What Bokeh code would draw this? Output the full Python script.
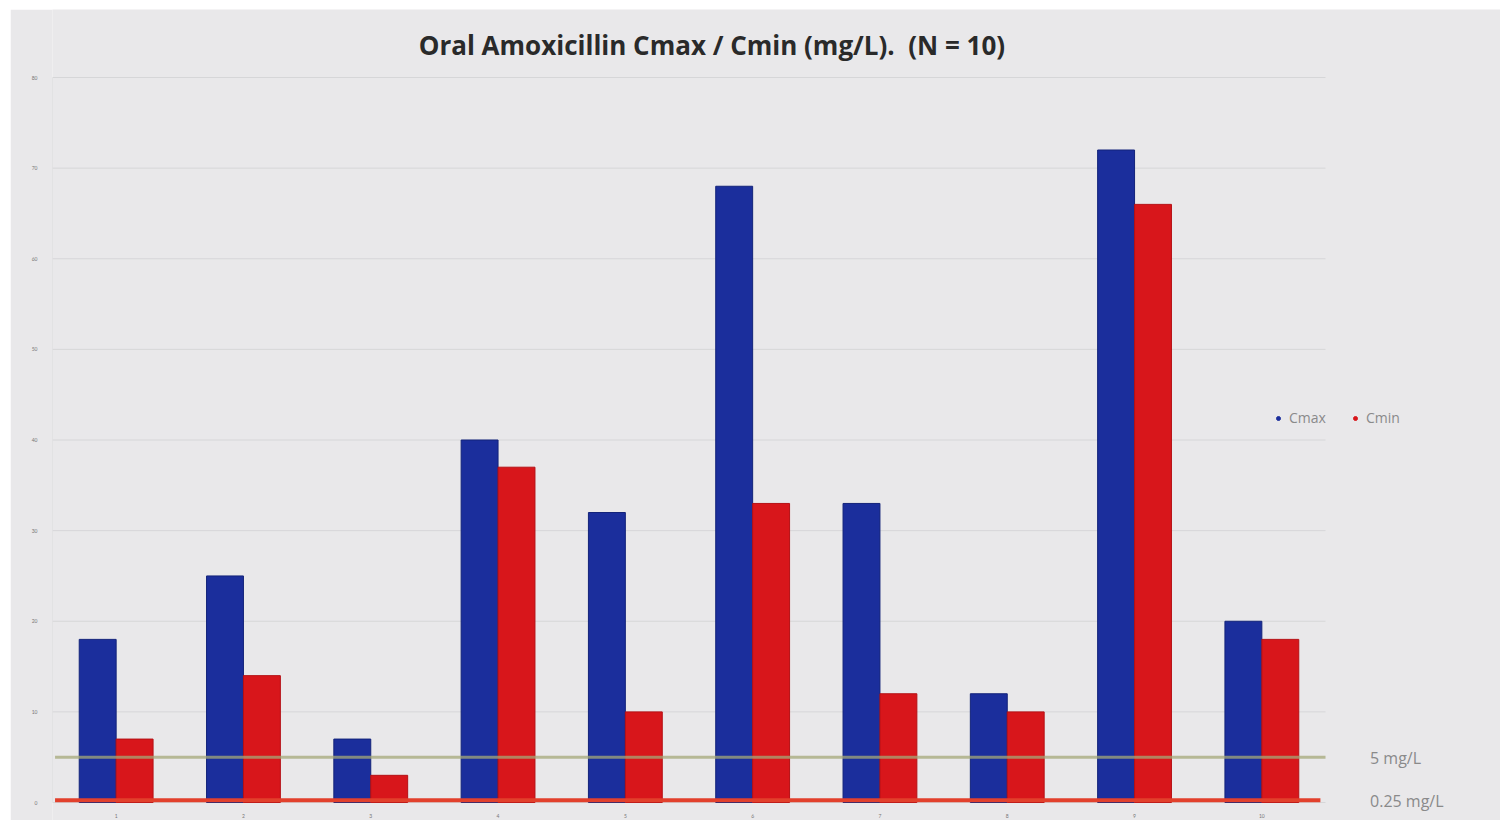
from bokeh.plotting import figure
from bokeh.models import (ColumnDataSource, FixedTicker, Label, Legend, LegendItem, Range1d)
from bokeh.core.properties import value
from bokeh.embed import file_html
from bokeh.resources import INLINE

# Per-patient amoxicillin concentrations (mg/L)
patients = [1, 2, 3, 4, 5, 6, 7, 8, 9, 10]
patient_labels = [str(n) for n in patients]
cmax = [18, 25, 7, 40, 32, 68, 33, 12, 72, 20]
cmin = [7, 14, 3, 37, 10, 33, 12, 10, 66, 18]
y_ticks = [0, 10, 20, 30, 40, 50, 60, 70, 80]
threshold_high = 5
threshold_low = 0.25

BLUE = "#1b2e9c"
RED = "#d8161b"
BG = "#e9e8ea"
GRID = "#d6d6d8"
MUTED = "#8a8a8a"

X0, X1 = 0.5, 10.5          # category extent of the plotting area
Y_TOP = 80
PX_X = 127.3                # pixels per category
PX_Y = 9.0625               # pixels per mg/L

bar_w = 0.29
src = ColumnDataSource(dict(
    x_max=[p - bar_w / 2 for p in patients],
    x_min=[p + bar_w / 2 for p in patients],
    cmax=cmax,
    cmin=cmin,
))

# the frame reaches past the bars so the title, legend and line labels sit inside it
p = figure(width=1490, height=811, output_backend="svg", toolbar_location=None,
           x_range=Range1d(X0, X1 + 175 / PX_X),
           y_range=Range1d(-18 / PX_Y, Y_TOP + 68 / PX_Y),
           background_fill_color=BG, border_fill_color=BG,
           min_border_left=42, min_border_right=0,
           min_border_top=0, min_border_bottom=0,
           margin=(9, 2, 9, 10))

# horizontal grid lines across the category extent only
p.segment(x0=[X0] * len(y_ticks), x1=[X1] * len(y_ticks), y0=y_ticks, y1=y_ticks,
          line_color=GRID, line_width=1)
# left axis line
p.segment(x0=[X0], x1=[X0], y0=[0], y1=[Y_TOP], line_color=GRID, line_width=1)

p.vbar(x="x_max", top="cmax", bottom=0, width=bar_w, source=src,
       fill_color=BLUE, line_color="#13237a", line_width=1)
p.vbar(x="x_min", top="cmin", bottom=0, width=bar_w, source=src,
       fill_color=RED, line_color="#b51015", line_width=1)

# reference concentration lines
p.segment(x0=[X0 + 0.02], x1=[X1], y0=[threshold_high], y1=[threshold_high],
          line_color="#a4a878", line_width=3, line_alpha=0.75)
p.segment(x0=[X0 + 0.02], x1=[X1 - 0.04], y0=[threshold_low], y1=[threshold_low],
          line_color="#e2402c", line_width=4)

# category labels under the bars
p.text(x=patients, y=[-13 / PX_Y] * len(patients), text=patient_labels,
       text_align="center", text_baseline="middle", text_font=value("Lato"),
       text_font_size="5px", text_color="#777777")

# value axis
p.xaxis.visible = False
p.yaxis.ticker = FixedTicker(ticks=y_ticks)
ax = p.yaxis[0]
ax.major_tick_line_color = None
ax.minor_tick_line_color = None
ax.axis_line_color = None
ax.major_label_text_font_size = "5px"
ax.major_label_text_color = "#777777"
ax.major_label_text_font = "Lato"
ax.major_label_standoff = 9
p.grid.grid_line_color = None
p.outline_line_color = None

# title
p.add_layout(Label(x=5.68, y=Y_TOP + 3.6,
                   text="Oral Amoxicillin Cmax / Cmin (mg/L).\u00a0\u00a0(N = 10)",
                   text_align="center", text_baseline="middle",
                   text_font="Open Sans", text_font_style="bold",
                   text_font_size="26px", text_color="#2a2a2a"))

# threshold labels at the right
p.add_layout(Label(x=10.85, y=threshold_high - 0.1, text="5 mg/L", text_align="left",
                   text_baseline="middle", text_font="Open Sans", text_font_size="16px",
                   text_color=MUTED))
p.add_layout(Label(x=10.85, y=threshold_low - 0.1, text="0.25 mg/L", text_align="left",
                   text_baseline="middle", text_font="Open Sans", text_font_size="16px",
                   text_color=MUTED))

# legend with round markers (points placed outside the visible range)
r_max = p.scatter(x=[-5], y=[-5], marker="circle", size=8, fill_color=BLUE, line_color=BLUE)
r_min = p.scatter(x=[-5], y=[-5], marker="circle", size=8, fill_color=RED, line_color=RED)
legend = Legend(items=[LegendItem(label="Cmax", renderers=[r_max]),
                       LegendItem(label="Cmin", renderers=[r_min])],
                orientation="horizontal", location=(1221, 393),
                background_fill_alpha=0, border_line_color=None,
                label_text_font="Open Sans", label_text_font_size="14px",
                label_text_color=MUTED, glyph_width=10, glyph_height=10,
                label_standoff=6, spacing=24, padding=0, margin=0)
p.add_layout(legend, "center")

open("out.html", "w").write(file_html(p, INLINE))
